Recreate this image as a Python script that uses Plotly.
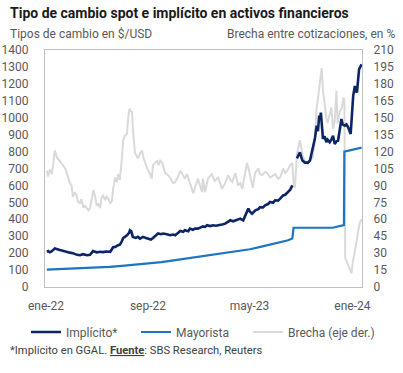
import plotly.graph_objects as go

# ---------------- data ----------------
impl_dates = ["2022-01-03","2022-01-06","2022-01-10","2022-01-15","2022-01-22","2022-01-27","2022-02-03","2022-02-10",
 "2022-02-19","2022-02-27","2022-03-06","2022-03-16","2022-03-23","2022-03-30","2022-04-09","2022-04-16","2022-04-23",
 "2022-05-02","2022-05-10","2022-05-17","2022-05-24","2022-06-03","2022-06-10","2022-06-15","2022-06-22","2022-06-26",
 "2022-06-30","2022-07-04","2022-07-08","2022-07-13","2022-07-18","2022-07-20","2022-07-23","2022-07-27","2022-08-03",
 "2022-08-08","2022-08-13","2022-08-20","2022-08-27","2022-09-01","2022-09-08","2022-09-13","2022-09-20","2022-09-25",
 "2022-10-02","2022-10-07","2022-10-16","2022-10-24","2022-10-31","2022-11-05","2022-11-12","2022-11-17","2022-11-24",
 "2022-11-28","2022-12-06","2022-12-10","2022-12-17","2022-12-22","2022-12-29","2023-01-03","2023-01-10","2023-01-15",
 "2023-01-20","2023-01-27","2023-02-03","2023-02-10","2023-02-20","2023-02-27","2023-03-04","2023-03-11","2023-03-16",
 "2023-03-23","2023-03-28","2023-04-04","2023-04-09","2023-04-16","2023-04-23","2023-04-28","2023-05-02","2023-05-07",
 "2023-05-15","2023-05-22","2023-05-26","2023-06-02","2023-06-07","2023-06-14","2023-06-19","2023-06-26","2023-07-01",
 "2023-07-08","2023-07-13","2023-07-20","2023-07-25","2023-08-01","2023-08-06","2023-08-11","2023-08-15","2023-08-22",
 "2023-08-25","2023-08-29","2023-09-01","2023-09-04","2023-09-10","2023-09-14","2023-09-17","2023-09-22","2023-09-25",
 "2023-09-29","2023-10-04","2023-10-08","2023-10-11","2023-10-14","2023-10-16","2023-10-18","2023-10-20","2023-10-23",
 "2023-10-27","2023-10-31","2023-11-03","2023-11-08","2023-11-12","2023-11-16","2023-11-20","2023-11-24","2023-11-28",
 "2023-12-02","2023-12-06","2023-12-09","2023-12-14","2023-12-18","2023-12-22","2023-12-28","2023-12-31","2024-01-03",
 "2024-01-07","2024-01-09","2024-01-12","2024-01-15","2024-01-17","2024-01-20","2024-01-23"]
impl_values = [208,212,205,212,228,222,218,214,
 206,203,200,190,188,194,188,190,212,
 205,208,206,210,208,235,237,247,250,
 266,290,296,305,320,335,330,296,290,
 296,286,296,290,286,280,290,305,316,
 312,316,312,306,310,306,320,331,326,
 335,330,345,338,345,345,351,358,355,
 365,360,365,362,365,370,374,385,394,
 388,394,400,404,394,440,463,445,433,
 453,460,472,470,482,490,502,498,512,
 510,522,541,545,561,575,600,None,760,
 776,796,770,747,735,737,735,747,780,
 835,880,953,920,1012,985,1030,943,875,
 890,855,870,855,870,894,845,860,865,
 930,992,960,953,960,943,904,1000,1129,
 1188,1160,1149,1230,1286,1300,1316]

may_dates = ["2022-01-03","2022-02-01","2022-03-01","2022-04-01","2022-05-02","2022-06-01","2022-07-01","2022-08-01",
 "2022-09-01","2022-10-03","2022-11-01","2022-12-01","2023-01-02","2023-02-01","2023-03-01","2023-04-03","2023-05-02",
 "2023-06-01","2023-07-03","2023-08-01","2023-08-11","2023-08-14","2023-11-15","2023-12-12","2023-12-13","2024-01-02",
 "2024-01-23"]
may_values = [103,105.5,108,111,114.5,119,125,131,
 140,147,157,168,178,187,198,209,223,
 240,257,276,287,350,350,366,800,810,
 823]

brecha_dates = ["2022-01-03","2022-01-06","2022-01-10","2022-01-15","2022-01-18","2022-01-22","2022-01-27","2022-02-03",
 "2022-02-10","2022-02-17","2022-02-23","2022-02-27","2022-03-03","2022-03-06","2022-03-11","2022-03-15","2022-03-18",
 "2022-03-23","2022-03-26","2022-03-31","2022-04-04","2022-04-12","2022-04-16","2022-04-20","2022-04-24","2022-04-28",
 "2022-05-02","2022-05-05","2022-05-10","2022-05-13","2022-05-17","2022-05-22","2022-05-25","2022-05-30","2022-06-03",
 "2022-06-07","2022-06-10","2022-06-15","2022-06-19","2022-06-22","2022-06-26","2022-06-30","2022-07-04","2022-07-08",
 "2022-07-13","2022-07-16","2022-07-19","2022-07-21","2022-07-25","2022-07-27","2022-08-01","2022-08-05","2022-08-08",
 "2022-08-13","2022-08-18","2022-08-21","2022-08-25","2022-08-29","2022-09-06","2022-09-10","2022-09-13","2022-09-18",
 "2022-09-23","2022-09-26","2022-09-30","2022-10-05","2022-10-12","2022-10-16","2022-10-24","2022-10-31","2022-11-05",
 "2022-11-12","2022-11-17","2022-11-22","2022-11-28","2022-12-03","2022-12-10","2022-12-15","2022-12-18","2022-12-22",
 "2022-12-29","2023-01-03","2023-01-08","2023-01-10","2023-01-15","2023-01-22","2023-01-27","2023-01-31","2023-02-07",
 "2023-02-15","2023-02-20","2023-02-24","2023-03-04","2023-03-11","2023-03-16","2023-03-21","2023-03-28","2023-04-04",
 "2023-04-09","2023-04-14","2023-04-17","2023-04-21","2023-04-25","2023-04-29","2023-05-02","2023-05-09","2023-05-14",
 "2023-05-22","2023-05-26","2023-05-31","2023-06-07","2023-06-12","2023-06-19","2023-06-26","2023-07-01","2023-07-08",
 "2023-07-13","2023-07-20","2023-07-25","2023-07-30","2023-08-06","2023-08-11","2023-08-14","2023-08-17","2023-08-22",
 "2023-08-29","2023-09-01","2023-09-05","2023-09-10","2023-09-17","2023-09-22","2023-09-29","2023-10-04","2023-10-08",
 "2023-10-12","2023-10-16","2023-10-18","2023-10-20","2023-10-23","2023-10-27","2023-10-31","2023-11-03","2023-11-08",
 "2023-11-12","2023-11-16","2023-11-20","2023-11-24","2023-11-27","2023-12-02","2023-12-07","2023-12-11","2023-12-13",
 "2023-12-15","2023-12-19","2023-12-22","2023-12-26","2023-12-30","2024-01-02","2024-01-07","2024-01-11","2024-01-15",
 "2024-01-19","2024-01-23"]
brecha_values = [103,98,104,100,108,121,115,112,
 108,104,96,92,90,80,84,81,76,
 74,78,70.5,72,68,70,78,86,80,
 72,74,70,79,81,77,80,78,74,
 76,87,97,93,100,95,110,130,134,
 136,150,158,156,155,140,119,116,114,
 118,121,115,110,106,100,96,108,110,
 112,108,112,110,101,100,97,92,93,
 98,103,100,96,100,92,88,83,88,
 96,90,84,96,84,96,98,100,94,
 97,92,87,92,99,95,93,101,90,
 92,87,94,101,110,104,99,88,101,
 105,100,99,102,101,97,99,100,96,
 97,105,101,103,108,110,90,88,118,
 130,122,116,112,109,112,115,135,159,
 170,180,189,194,174,159,150,145,152,
 159,140,147,174,145,155,159,168,165,
 26,22,19,16,12,22,31,40,50,
 57,60]

x_tickvals = ["2022-01-01", "2022-09-01", "2023-05-01", "2024-01-01"]
x_ticktext = ["ene-22", "sep-22", "may-23", "ene-24"]

# ---------------- styling ----------------
NAVY = "#0b2566"
BLUE = "#1b75c2"
GRAY = "#d9d9d9"
FRAME = "#c0c0c0"
TXT = "#595959"
FONT = "Roboto"

W, H = 403, 373
L, R, T, B = 45, 41, 49.5, 86
pw, ph = W - L - R, H - T - B


def cx(x):
    return x / W


def cy(y):
    return 1 - y / H


def leg(xpx):
    return dict(orientation="h", xref="container", yref="container",
                x=cx(xpx), xanchor="left", y=cy(332), yanchor="middle",
                font=dict(family=FONT, size=12, color=TXT), bgcolor="rgba(0,0,0,0)",
                itemwidth=30, borderwidth=0)


fig = go.Figure()
fig.add_trace(go.Scatter(x=brecha_dates, y=brecha_values, name="Brecha (eje der.)", mode="lines",
                         line=dict(color=GRAY, width=2), yaxis="y", legend="legend3"))
fig.add_trace(go.Scatter(x=impl_dates, y=impl_values, name="Implícito*", mode="lines",
                         line=dict(color=NAVY, width=2.6), yaxis="y2", connectgaps=False, legend="legend"))
fig.add_trace(go.Scatter(x=may_dates, y=may_values, name="Mayorista", mode="lines",
                         line=dict(color=BLUE, width=2.2), yaxis="y2", legend="legend2"))

fig.update_layout(
    width=W, height=H,
    margin=dict(l=L, r=R, t=T, b=B, pad=0, autoexpand=False),
    paper_bgcolor="white", plot_bgcolor="white",
    font=dict(family=FONT, size=12, color=TXT),
    xaxis=dict(type="date", range=["2021-12-29 15:00", "2024-01-24"],
               tickvals=x_tickvals, ticktext=x_ticktext, automargin=False,
               showgrid=False, zeroline=False, showline=True, mirror=True, linecolor=FRAME, linewidth=1,
               ticks="outside", ticklen=8, tickcolor="rgba(0,0,0,0)",
               tickfont=dict(family=FONT, size=12, color=TXT)),
    yaxis=dict(side="right", range=[0, 210], tick0=0, dtick=15, automargin=False,
               showgrid=False, zeroline=False, showline=True, mirror=True, linecolor=FRAME, linewidth=1,
               ticks="outside", ticklen=8, tickcolor="rgba(0,0,0,0)",
               tickfont=dict(family=FONT, size=12, color=TXT)),
    yaxis2=dict(overlaying="y", side="left", range=[0, 1400], tick0=0, dtick=100, automargin=False,
                showgrid=False, zeroline=False, showline=False,
                ticks="outside", ticklen=13, tickcolor="rgba(0,0,0,0)",
                tickfont=dict(family=FONT, size=12, color=TXT)),
    showlegend=True,
    legend=leg(26),
    legend2=leg(136),
    legend3=leg(248),
)

fig.add_annotation(text="<b>Tipo de cambio spot e implícito en activos financieros</b>",
                   xref="paper", yref="paper", x=(8 - L) / pw, y=(H - B - 12) / ph,
                   xanchor="left", yanchor="middle",
                   showarrow=False, font=dict(family=FONT, size=14, color="#1a1a1a"))
fig.add_annotation(text="Tipos de cambio en $/USD",
                   xref="paper", yref="paper", x=(8 - L) / pw, y=(H - B - 33) / ph,
                   xanchor="left", yanchor="middle",
                   showarrow=False, font=dict(family=FONT, size=12, color=TXT))
fig.add_annotation(text="Brecha entre cotizaciones, en %",
                   xref="paper", yref="paper", x=(397 - L) / pw, y=(H - B - 33) / ph,
                   xanchor="right", yanchor="middle",
                   showarrow=False, font=dict(family=FONT, size=12, color=TXT))
fig.add_annotation(text="*Implícito en GGAL. <b><u>Fuente</u></b>: SBS Research, Reuters",
                   xref="paper", yref="paper", x=(8 - L) / pw, y=(H - B - 351) / ph,
                   xanchor="left", yanchor="middle",
                   showarrow=False, font=dict(family=FONT, size=11.2, color="#404040"))

fig.write_html("out.html", config={"displayModeBar": False},
               post_script="document.body.style.margin='0';document.body.style.overflow='hidden';")
